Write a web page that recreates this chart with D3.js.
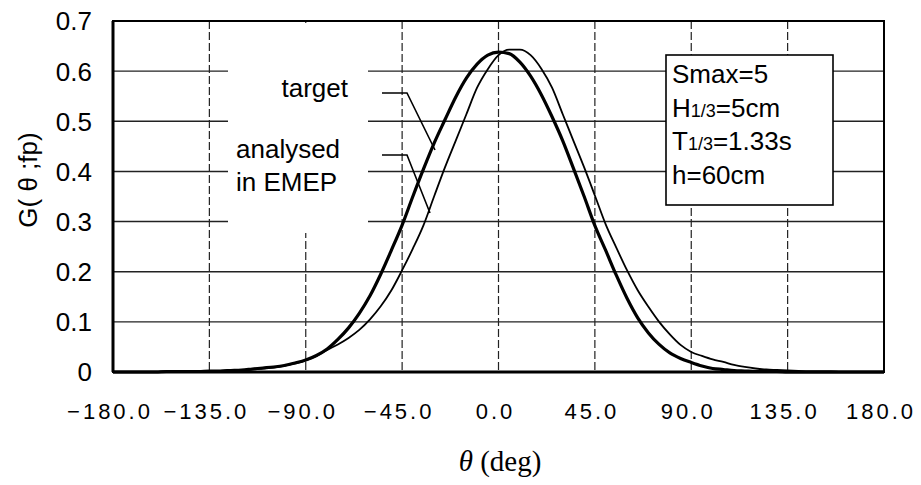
<!DOCTYPE html>
<html><head><meta charset="utf-8">
<script src="https://cdn.jsdelivr.net/npm/d3@7"></script>
<style>body{margin:0;background:#fff}</style>
</head><body><svg id="c" width="921" height="485"></svg>
<script>
const angles = d3.range(-180, 181, 5);
const target = [0,0,0,0,0,0.001,0.001,0.001,0.001,0.002,0.002,0.003,0.004,0.006,0.008,0.010,0.013,
  0.018,0.024,0.033,0.046,0.065,0.088,0.117,0.152,0.195,0.243,0.293,0.350,0.405,0.457,0.503,0.548,0.586,0.614,0.632,
  0.638,
  0.635,0.618,0.590,0.553,0.509,0.461,0.406,0.350,0.292,0.243,0.193,0.147,0.108,0.078,0.055,0.038,0.027,0.019,0.012,0.007,0.005,0.003,0.002,0.001,0.001,0.001,
  0,0,0,0,0,0,0,0,0,0];
const analysed = [0,0,0,0,0,0.001,0.001,0.001,0.001,0.002,0.002,0.003,0.004,0.005,0.007,0.009,0.012,
  0.017,0.023,0.032,0.044,0.055,0.068,0.084,0.105,0.131,0.163,0.203,0.246,0.293,0.351,0.408,0.461,0.514,0.567,0.604,
  0.632,
  0.643,0.643,0.632,0.605,0.567,0.514,0.461,0.408,0.352,0.295,0.248,0.203,0.163,0.130,0.100,0.075,0.054,0.040,0.032,0.025,0.020,0.014,0.010,0.007,0.005,0.004,
  0.003,0.002,0.001,0.001,0.001,0,0,0,0,0];
const xTicks = [-180,-135,-90,-45,0,45,90,135,180];
const xTickLabels = ["\u2212180.0","\u2212135.0","\u221290.0","\u221245.0","0.0","45.0","90.0","135.0","180.0"];
const yTicks = [0,0.1,0.2,0.3,0.4,0.5,0.6,0.7];
const yTickLabels = ["0","0.1","0.2","0.3","0.4","0.5","0.6","0.7"];
const legendLines = [["Smax=5","",""],["H","1/3","=5cm"],["T","1/3","=1.33s"],["h=60cm","",""]];

const svg = d3.select("#c");
const L=113, R=884, T=21, B=372;
const x = d3.scaleLinear().domain([-180,180]).range([L,R]);
const y = d3.scaleLinear().domain([0,0.7]).range([B,T]);
const font = "'Liberation Sans', Arial, sans-serif";

// grid
svg.append("g").selectAll("line").data(yTicks.slice(1,-1)).join("line")
  .attr("x1",L).attr("x2",R).attr("y1",d=>y(d)).attr("y2",d=>y(d))
  .attr("stroke","#222").attr("stroke-width",1.4);
svg.append("g").selectAll("line").data(xTicks.slice(1,-1)).join("line")
  .attr("x1",d=>x(d)).attr("x2",d=>x(d)).attr("y1",T).attr("y2",B)
  .attr("stroke","#222").attr("stroke-width",1.2).attr("stroke-dasharray","8,3");

// white label area
svg.append("rect").attr("x",228).attr("y",T+2).attr("width",140).attr("height",210).attr("fill","#fff");

// curves
const line = d3.line().x((d,i)=>x(angles[i])).y(d=>y(d)).curve(d3.curveMonotoneX);
svg.append("path").attr("d",line(analysed)).attr("fill","none").attr("stroke","#000").attr("stroke-width",1.8);
svg.append("path").attr("d",line(target)).attr("fill","none").attr("stroke","#000").attr("stroke-width",3.2);

// frame
svg.append("rect").attr("x",L).attr("y",T).attr("width",R-L).attr("height",B-T)
  .attr("fill","none").attr("stroke","#000").attr("stroke-width",2);
svg.append("line").attr("x1",L).attr("x2",L).attr("y1",T).attr("y2",B).attr("stroke","#000").attr("stroke-width",3);
svg.append("line").attr("x1",L).attr("x2",R).attr("y1",B).attr("y2",B).attr("stroke","#000").attr("stroke-width",3);

// y ticks
svg.append("g").selectAll("text").data(yTicks).join("text")
  .attr("x",92).attr("y",d=>y(d)).attr("dy","0.36em").attr("text-anchor","end")
  .attr("font-family",font).attr("font-size",26).text((d,i)=>yTickLabels[i]);
// x ticks
svg.append("g").selectAll("text").data(xTicks).join("text")
  .attr("x",d=>x(d)-3).attr("y",419).attr("text-anchor","middle")
  .attr("font-family",font).attr("font-size",22).attr("letter-spacing",3)
  .text((d,i)=>xTickLabels[i]);

// axis titles
svg.append("text").attr("transform","translate(37,180) rotate(-90)").attr("text-anchor","middle")
  .attr("font-family",font).attr("font-size",26).text("G( \u03b8 ;fp)");
const xt = svg.append("text").attr("x",500).attr("y",471).attr("text-anchor","middle")
  .attr("font-family","'Liberation Serif', 'DejaVu Serif', serif").attr("font-size",29);
xt.append("tspan").attr("font-style","italic").text("\u03b8");
xt.append("tspan").text(" (deg)");

// annotations
svg.append("text").attr("x",348).attr("y",97).attr("text-anchor","end")
  .attr("font-family",font).attr("font-size",26).text("target");
svg.append("text").attr("x",236).attr("y",158).attr("font-family",font).attr("font-size",26).text("analysed");
svg.append("text").attr("x",236).attr("y",191).attr("font-family",font).attr("font-size",26).text("in EMEP");
svg.append("path").attr("d","M382,93 L407,93 L435,150").attr("fill","none").attr("stroke","#000").attr("stroke-width",1.6);
svg.append("path").attr("d","M382,155 L407,155 L430,213").attr("fill","none").attr("stroke","#000").attr("stroke-width",1.6);

// legend box
svg.append("rect").attr("x",666).attr("y",55).attr("width",167).attr("height",150)
  .attr("fill","#fff").attr("stroke","#000").attr("stroke-width",1.6);
const baselines=[83,117,150,184];
legendLines.forEach((l,i)=>{
  const t = svg.append("text").attr("x",672).attr("y",baselines[i]).attr("font-family",font).attr("font-size",26);
  t.append("tspan").text(l[0]);
  if(l[1]) t.append("tspan").attr("font-size",18).text(l[1]);
  if(l[2]) t.append("tspan").text(l[2]);
});
</script></body></html>
